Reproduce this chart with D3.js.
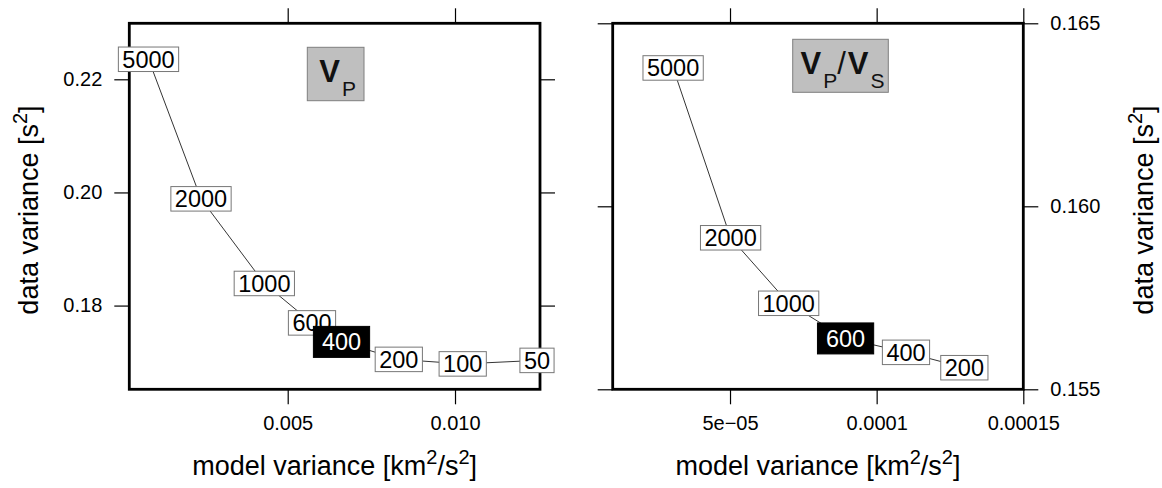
<!DOCTYPE html>
<html>
<head>
<meta charset="utf-8">
<script src="https://cdn.jsdelivr.net/npm/d3@7"></script>
<style>
  body { margin: 0; background: #fff; }
  svg { font-family: "Liberation Sans", Arial, Helvetica, sans-serif; }
</style>
</head>
<body>
<div id="chart"></div>
<script>
const width = 1162;
const height = 488;

// Vp: damping values and their variances
const vpWeights = ["5000", "2000", "1000", "600", "400", "200", "100", "50"];
const vpModelVar = [0.00084, 0.002409, 0.004301, 0.005726, 0.006608, 0.00832, 0.01023, 0.01245];
const vpDataVar = [0.22354, 0.19887, 0.18391, 0.17694, 0.17358, 0.17049, 0.16969, 0.17031];
const vpChosen = "400";
const vpXTicks = [0.005, 0.010];
const vpXTickLabels = ["0.005", "0.010"];
const vpYTicks = [0.18, 0.20, 0.22];
const vpYTickLabels = ["0.18", "0.20", "0.22"];

// Vp/Vs
const vpvsWeights = ["5000", "2000", "1000", "600", "400", "200"];
const vpvsModelVar = [3.06e-5, 5.02e-5, 7.0e-5, 8.94e-5, 1.1e-4, 1.299e-4];
const vpvsDataVar = [0.16378, 0.15914, 0.15735, 0.15639, 0.15601, 0.15559];
const vpvsChosen = "600";
const vpvsXTicks = [5e-5, 1e-4, 1.5e-4];
const vpvsXTickLabels = ["5e\u221205", "0.0001", "0.00015"];
const vpvsYTicks = [0.155, 0.160, 0.165];
const vpvsYTickLabels = ["0.155", "0.160", "0.165"];

const plotTop = 23.3, plotBottom = 389.3;
const tickLen = 15;

const svg = d3.select("#chart").append("svg")
  .attr("width", width)
  .attr("height", height);

const panels = [
  {
    weights: vpWeights, xs: vpModelVar, ys: vpDataVar, chosen: vpChosen,
    left: 129.3, right: 540,
    xDomain: [0.000266, 0.01254], yDomain: [0.1652, 0.2299],
    xTicks: vpXTicks, xLabels: vpXTickLabels,
    yTicks: vpYTicks, yLabels: vpYTickLabels,
    ySide: "left", yTitleX: 38,
    box: { x: 307.3, y: 47.3, w: 56.7, h: 53.4 },
    title: [["V", false], ["P", true]]
  },
  {
    weights: vpvsWeights, xs: vpvsModelVar, ys: vpvsDataVar, chosen: vpvsChosen,
    left: 612.7, right: 1023.3,
    xDomain: [1e-5, 1.5e-4], yDomain: [0.155, 0.165],
    xTicks: vpvsXTicks, xLabels: vpvsXTickLabels,
    yTicks: vpvsYTicks, yLabels: vpvsYTickLabels,
    ySide: "right", yTitleX: 1153,
    box: { x: 792.7, y: 39.3, w: 95.6, h: 53 },
    title: [["V", false], ["P", true], ["/", false], ["V", false], ["S", true]]
  }
];

function styleAxis(g) {
  g.select(".domain").remove();
  g.selectAll(".tick line").attr("stroke", "#000").attr("stroke-width", 1.2);
  g.selectAll(".tick text").attr("fill", "#000").attr("font-size", 20)
    .attr("font-family", "Liberation Sans, Arial, sans-serif");
}

panels.forEach((p) => {
  const x = d3.scaleLinear().domain(p.xDomain).range([p.left, p.right]);
  const y = d3.scaleLinear().domain(p.yDomain).range([plotBottom, plotTop]);
  const xFmt = (d, i) => p.xLabels[i];
  const yFmt = (d, i) => p.yLabels[i];

  // ticks on all four sides, labels only on two
  svg.append("g").attr("transform", "translate(0," + plotBottom + ")")
    .call(d3.axisBottom(x).tickValues(p.xTicks).tickSize(tickLen).tickPadding(12).tickFormat(xFmt))
    .call(styleAxis);
  svg.append("g").attr("transform", "translate(0," + plotTop + ")")
    .call(d3.axisTop(x).tickValues(p.xTicks).tickSize(tickLen).tickFormat(""))
    .call(styleAxis);
  svg.append("g").attr("transform", "translate(" + p.left + ",0)")
    .call(d3.axisLeft(y).tickValues(p.yTicks).tickSize(tickLen).tickPadding(12)
      .tickFormat(p.ySide === "left" ? yFmt : ""))
    .call(styleAxis);
  svg.append("g").attr("transform", "translate(" + p.right + ",0)")
    .call(d3.axisRight(y).tickValues(p.yTicks).tickSize(tickLen).tickPadding(12)
      .tickFormat(p.ySide === "right" ? yFmt : ""))
    .call(styleAxis);

  // frame
  svg.append("rect")
    .attr("x", p.left).attr("y", plotTop)
    .attr("width", p.right - p.left).attr("height", plotBottom - plotTop)
    .attr("fill", "none").attr("stroke", "#000").attr("stroke-width", 2.8);

  // title box
  svg.append("rect")
    .attr("x", p.box.x).attr("y", p.box.y)
    .attr("width", p.box.w).attr("height", p.box.h)
    .attr("fill", "#bfbfbf").attr("stroke", "#7f7f7f").attr("stroke-width", 1);
  const tt = svg.append("text")
    .attr("x", p.box.x + p.box.w / 2)
    .attr("y", p.box.y + 34.4)
    .attr("text-anchor", "middle")
    .attr("fill", "#111");
  let down = false;
  p.title.forEach(([s, sub]) => {
    const dy = sub && !down ? 14 : (!sub && down ? -14 : 0);
    down = sub;
    tt.append("tspan")
      .attr("dy", dy)
      .attr("dx", s === "/" ? 0 : 2)
      .attr("font-size", sub ? 21 : 31)
      .attr("font-weight", sub || s === "/" ? "normal" : "bold")
      .text(s);
  });

  // trade-off curve
  const pts = p.weights.map((w, i) => ({ w: w, x: p.xs[i], y: p.ys[i] }));
  svg.append("path")
    .datum(pts)
    .attr("d", d3.line().x((d) => x(d.x)).y((d) => y(d.y)))
    .attr("fill", "none")
    .attr("stroke", "#000")
    .attr("stroke-width", 0.8);

  const labels = svg.selectAll(".lab" + p.ySide)
    .data(pts)
    .enter()
    .append("g")
    .attr("class", "lab" + p.ySide)
    .attr("transform", (d) => "translate(" + x(d.x) + "," + y(d.y) + ")");

  labels.each(function (d) {
    const sel = d3.select(this);
    const chosen = d.w === p.chosen;
    const rect = sel.append("rect");
    const t = sel.append("text")
      .attr("text-anchor", "middle")
      .attr("y", 8.4)
      .attr("font-size", 23.5)
      .attr("fill", chosen ? "#fff" : "#000")
      .text(d.w);
    const tw = t.node().getComputedTextLength();
    const pw = chosen ? 8.5 : 4;
    const h = chosen ? 31 : 24.5;
    rect.attr("x", -tw / 2 - pw).attr("y", -h / 2)
      .attr("width", tw + 2 * pw).attr("height", h)
      .attr("fill", chosen ? "#000" : "#fff")
      .attr("stroke", chosen ? "#000" : "#777")
      .attr("stroke-width", 1);
  });

  // axis titles
  const xt = svg.append("text")
    .attr("x", (p.left + p.right) / 2)
    .attr("y", 475)
    .attr("text-anchor", "middle")
    .attr("font-size", 27)
    .attr("fill", "#000");
  xt.append("tspan").text("model variance [km");
  xt.append("tspan").attr("font-size", 20).attr("dy", -11).text("2");
  xt.append("tspan").attr("dy", 11).text("/s");
  xt.append("tspan").attr("font-size", 20).attr("dy", -11).text("2");
  xt.append("tspan").attr("dy", 11).text("]");

  const yt = svg.append("text")
    .attr("transform", "translate(" + p.yTitleX + ",210) rotate(-90)")
    .attr("text-anchor", "middle")
    .attr("font-size", 27)
    .attr("fill", "#000");
  yt.append("tspan").text("data variance [s");
  yt.append("tspan").attr("font-size", 20).attr("dy", -11).text("2");
  yt.append("tspan").attr("dy", 11).text("]");
});
</script>
</body>
</html>
